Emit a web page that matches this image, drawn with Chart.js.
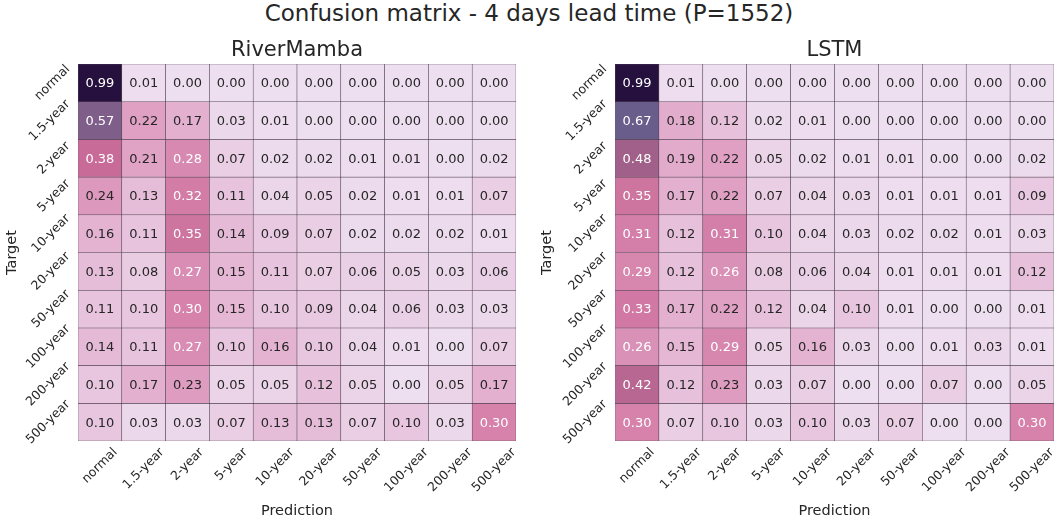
<!DOCTYPE html>
<html>
<head>
<meta charset="utf-8">
<script src="https://cdn.jsdelivr.net/npm/chart.js@4.4.1/dist/chart.umd.min.js"></script>
<style>
  body { margin: 0; background: #fff; font-family: "DejaVu Sans", sans-serif; }
  #wrap { position: relative; width: 1058px; height: 520px; }
  #title { position: absolute; top: 0; left: 0; width: 1058px; text-align: center;
           font-size: 23px; line-height: 26px; color: #262626; }
  .box { position: absolute; top: 0; width: 529px; height: 520px; }
</style>
</head>
<body>
<div id="wrap">
  <div id="title">Confusion matrix - 4 days lead time (P=1552)</div>
  <div class="box" style="left:0"><canvas id="rmChart"></canvas></div>
  <div class="box" style="left:529px"><canvas id="lstmChart"></canvas></div>
</div>
<script>
// Classes (rows = target, columns = prediction)
var classes = ["normal", "1.5-year", "2-year", "5-year", "10-year",
               "20-year", "50-year", "100-year", "200-year", "500-year"];

// RiverMamba confusion matrix, one array per target row
var rmValues = [
    [0.99, 0.01, 0.00, 0.00, 0.00, 0.00, 0.00, 0.00, 0.00, 0.00],
    [0.57, 0.22, 0.17, 0.03, 0.01, 0.00, 0.00, 0.00, 0.00, 0.00],
    [0.38, 0.21, 0.28, 0.07, 0.02, 0.02, 0.01, 0.01, 0.00, 0.02],
    [0.24, 0.13, 0.32, 0.11, 0.04, 0.05, 0.02, 0.01, 0.01, 0.07],
    [0.16, 0.11, 0.35, 0.14, 0.09, 0.07, 0.02, 0.02, 0.02, 0.01],
    [0.13, 0.08, 0.27, 0.15, 0.11, 0.07, 0.06, 0.05, 0.03, 0.06],
    [0.11, 0.10, 0.30, 0.15, 0.10, 0.09, 0.04, 0.06, 0.03, 0.03],
    [0.14, 0.11, 0.27, 0.10, 0.16, 0.10, 0.04, 0.01, 0.00, 0.07],
    [0.10, 0.17, 0.23, 0.05, 0.05, 0.12, 0.05, 0.00, 0.05, 0.17],
    [0.10, 0.03, 0.03, 0.07, 0.13, 0.13, 0.07, 0.10, 0.03, 0.30]
];

// LSTM confusion matrix
var lstmValues = [
    [0.99, 0.01, 0.00, 0.00, 0.00, 0.00, 0.00, 0.00, 0.00, 0.00],
    [0.67, 0.18, 0.12, 0.02, 0.01, 0.00, 0.00, 0.00, 0.00, 0.00],
    [0.48, 0.19, 0.22, 0.05, 0.02, 0.01, 0.01, 0.00, 0.00, 0.02],
    [0.35, 0.17, 0.22, 0.07, 0.04, 0.03, 0.01, 0.01, 0.01, 0.09],
    [0.31, 0.12, 0.31, 0.10, 0.04, 0.03, 0.02, 0.02, 0.01, 0.03],
    [0.29, 0.12, 0.26, 0.08, 0.06, 0.04, 0.01, 0.01, 0.01, 0.12],
    [0.33, 0.17, 0.22, 0.12, 0.04, 0.10, 0.01, 0.00, 0.00, 0.01],
    [0.26, 0.15, 0.29, 0.05, 0.16, 0.03, 0.00, 0.01, 0.03, 0.01],
    [0.42, 0.12, 0.23, 0.03, 0.07, 0.00, 0.00, 0.07, 0.00, 0.05],
    [0.30, 0.07, 0.10, 0.03, 0.10, 0.03, 0.07, 0.00, 0.00, 0.30]
];

// Colour map stops (value -> rgb)
var colorStops = [
    [0.00, [237, 223, 240]],
    [0.10, [232, 198, 223]],
    [0.20, [225, 167, 201]],
    [0.30, [214, 130, 171]],
    [0.38, [200, 107, 152]],
    [0.48, [160, 96, 137]],
    [0.57, [127, 94, 138]],
    [0.67, [105, 93, 139]],
    [1.00, [36, 14, 60]]
];

function cellColor(v) {
    for (var k = 1; k < colorStops.length; k++) {
        var a = colorStops[k - 1], b = colorStops[k];
        if (v <= b[0]) {
            var t = (v - a[0]) / (b[0] - a[0]);
            var c = a[1].map(function (x, n) { return Math.round(x + (b[1][n] - x) * t); });
            return "rgb(" + c.join(",") + ")";
        }
    }
    return "rgb(36,14,60)";
}

Chart.defaults.font.family = "'DejaVu Sans', sans-serif";
Chart.defaults.color = "#262626";

// Write the value in each cell
var cellLabels = {
    id: "cellLabels",
    afterDatasetsDraw: function (chart) {
        var ctx = chart.ctx;
        ctx.save();
        ctx.font = "13px 'DejaVu Sans'";
        ctx.textAlign = "center";
        ctx.textBaseline = "middle";
        chart.data.datasets.forEach(function (ds, i) {
            chart.getDatasetMeta(i).data.forEach(function (bar, j) {
                var v = ds.cellValues[j];
                ctx.fillStyle = v >= 0.25 ? "#fff" : "#262626";
                ctx.fillText(v.toFixed(2), bar.x, (bar.y + bar.base) / 2 + 1);
            });
        });
        ctx.restore();
    }
};

// Centre rotated tick labels on their ticks (like matplotlib)
var tickAlign = {
    id: "tickAlign",
    beforeDraw: function (chart) {
        var ctx = chart.ctx;
        ["x", "y"].forEach(function (id) {
            var scale = chart.scales[id];
            scale.getLabelItems().forEach(function (item) {
                if (item.adjusted) return;
                ctx.font = item.font.string;
                var w = ctx.measureText(item.label).width;
                var t = item.options.translation;
                if (id === "x") t[0] += w * 0.354;
                else t[1] -= w * 0.354;
                item.adjusted = true;
            });
        });
    }
};

function makeHeatmap(canvasId, name, values, yAxisWidth, rightPad, targetPad) {
    var datasets = values.map(function (row, i) {
        return {
            data: row.map(function () { return [i - 0.5, i + 0.5]; }),
            cellValues: row,
            backgroundColor: row.map(cellColor),
            borderColor: "rgba(70, 55, 70, 0.85)",
            borderWidth: 0.6,
            borderSkipped: false,
            grouped: false,
            barPercentage: 1,
            categoryPercentage: 1
        };
    });

    return new Chart(document.getElementById(canvasId).getContext("2d"), {
        type: "bar",
        data: { labels: classes, datasets: datasets },
        options: {
            responsive: true,
            maintainAspectRatio: false,
            animation: false,
            layout: { padding: { left: 0, right: rightPad, top: 0, bottom: 0 } },
            plugins: {
                legend: { display: false },
                tooltip: { enabled: false },
                title: {
                    display: true,
                    text: name,
                    fullSize: false,
                    color: "#262626",
                    font: { size: 21, weight: "normal" },
                    padding: { top: 38, bottom: 0.8 }
                }
            },
            scales: {
                x: {
                    type: "category",
                    grid: { display: false, drawTicks: false },
                    border: { display: false },
                    ticks: { font: { size: 12.5 }, color: "#262626", minRotation: 45, maxRotation: 45,
                             autoSkip: false, padding: 4 },
                    title: { display: true, text: "Prediction", color: "#262626",
                             font: { size: 14.5 }, padding: { top: 0, bottom: 0.5 } },
                    afterFit: function (s) { s.height = 79; }
                },
                y: {
                    type: "linear",
                    reverse: true,
                    min: -0.5,
                    max: 9.5,
                    grid: { display: false, drawTicks: false },
                    border: { display: false },
                    afterBuildTicks: function (s) {
                        s.ticks = classes.map(function (c, i) { return { value: i }; });
                    },
                    ticks: {
                        font: { size: 12.5 }, color: "#262626", minRotation: 45, maxRotation: 45,
                        padding: 10,
                        callback: function (v) { return classes[v]; }
                    },
                    title: { display: true, text: "Target", color: "#262626",
                             font: { size: 14.5 }, padding: { top: targetPad, bottom: 0 } },
                    afterFit: function (s) { s.width = yAxisWidth; }
                }
            }
        },
        plugins: [cellLabels, tickAlign]
    });
}

var rmChart = makeHeatmap("rmChart", "RiverMamba", rmValues, 78, 13, 3.6);
var lstmChart = makeHeatmap("lstmChart", "LSTM", lstmValues, 86, 4, 9.6);
</script>
</body>
</html>
